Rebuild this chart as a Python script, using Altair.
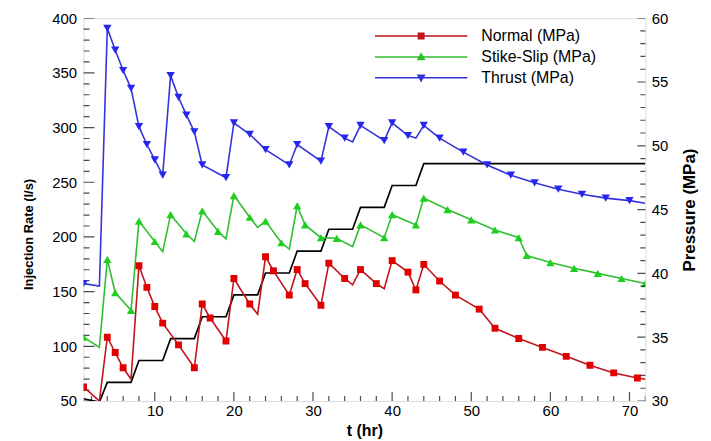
import altair as alt
import pandas as pd

# ---------------- data ----------------
T_RATE = [1, 3, 4, 7, 8, 11, 12, 15, 16, 19, 20, 23, 24, 27, 28, 31, 32, 35, 36, 39, 40, 43, 44, 72]
RATE = [52, 49, 67, 67, 87, 87, 107, 107, 127, 127, 147, 147, 167, 167, 187, 187, 207, 207,
        227, 227, 247, 247, 267, 267]

T_NORMAL = [1, 3, 4, 5, 6, 7, 8, 9, 10, 11, 13, 15, 16, 17, 19, 20, 22, 23, 24, 25, 27, 28, 29, 31,
            32, 34, 35, 36, 38, 39, 40, 42, 43, 44, 46, 48, 51, 53, 56, 59, 62, 65, 68, 71, 72]
P_NORMAL = [31.1, 30.0, 35.0, 33.8, 32.6, 31.7, 40.6, 38.9, 37.4, 36.1, 34.4, 32.6, 37.6, 36.5, 34.7,
            39.6, 37.6, 36.8, 41.3, 40.2, 38.3, 40.3, 39.2, 37.5, 40.8, 39.6, 39.1, 40.3, 39.2, 38.8,
            41.0, 40.1, 38.7, 40.7, 39.4, 38.3, 37.2, 35.7, 34.9, 34.2, 33.5, 32.8, 32.2, 31.8, 31.7]
M_NORMAL = [1, 0, 1, 1, 1, 0, 1, 1, 1, 1, 1, 1, 1, 1, 1, 1, 1, 0, 1, 1, 1, 1, 1, 1, 1, 1, 0, 1, 1, 0,
            1, 1, 1, 1, 1, 1, 1, 1, 1, 1, 1, 1, 1, 1, 0]

T_STRIKE = [1, 3, 4, 5, 7, 8, 10, 11, 12, 14, 15, 16, 18, 19, 20, 22, 23, 24, 26, 27, 28, 29, 31, 33,
            35, 36, 39, 40, 43, 44, 47, 50, 53, 56, 57, 60, 63, 66, 69, 72]
P_STRIKE = [35.0, 34.2, 41.1, 38.5, 37.1, 44.1, 42.5, 41.7, 44.6, 43.1, 42.5, 44.9, 43.3, 42.7, 46.1,
            44.4, 43.6, 44.1, 42.4, 41.9, 45.3, 43.8, 42.8, 42.75, 42.1, 43.8, 42.8, 44.6, 43.8, 45.9,
            45.0, 44.2, 43.4, 42.8, 41.4, 40.85, 40.4, 40.0, 39.6, 39.2]
M_STRIKE = [1, 0, 1, 1, 1, 1, 1, 0, 1, 1, 0, 1, 1, 0, 1, 1, 0, 1, 1, 0, 1, 1, 1, 1, 0, 1, 1, 1, 1, 1,
            1, 1, 1, 1, 1, 1, 1, 1, 1, 1]

T_THRUST = [1, 3, 4, 5, 6, 7, 8, 9, 10, 11, 12, 13, 14, 15, 16, 19, 20, 22, 24, 27, 28, 31, 32, 34,
            35, 36, 39, 40, 42, 43, 44, 46, 49, 52, 55, 58, 61, 64, 67, 70, 72]
P_THRUST = [39.2, 39.0, 59.2, 57.5, 55.9, 54.5, 51.5, 50.1, 48.9, 47.7, 55.5, 53.8, 52.4, 51.1, 48.5,
            47.5, 51.8, 50.9, 49.7, 48.5, 50.1, 48.8, 51.5, 50.6, 50.3, 51.6, 50.4, 51.8, 50.8, 50.6,
            51.6, 50.6, 49.5, 48.5, 47.7, 47.1, 46.6, 46.2, 45.9, 45.7, 45.5]
M_THRUST = [1, 0, 1, 1, 1, 1, 1, 1, 1, 1, 1, 1, 1, 1, 1, 1, 1, 1, 1, 1, 1, 1, 1, 1, 0, 1, 1, 1, 1, 0,
            1, 1, 1, 1, 1, 1, 1, 1, 1, 1, 0]

SERIES = ["Normal (MPa)", "Stike-Slip (MPa)", "Thrust (MPa)"]

X_TICK_LABELS = [10, 20, 30, 40, 50, 60, 70]
RATE_TICK_LABELS = [50, 100, 150, 200, 250, 300, 350, 400]
P_TICK_LABELS = [30, 35, 40, 45, 50, 55, 60]
X_TICKS = list(range(2, 73, 2))
RATE_TICKS = list(range(50, 401, 10))
P_TICKS = list(range(30, 61, 1))

# ---------------- styles ----------------
FONT = "Liberation Sans"
LINE_COLORS = ["#c0141c", "#2fbf2f", "#3434dc"]
MARKER_COLORS = ["#e00000", "#1fcf1f", "#2626ee"]
MARKER_SHAPES = ["square", "triangle-up", "triangle-down"]
MARKER_SIZES = [48, 70, 70]
LEGEND_PATHS = [
    "M-1,-0.016H-0.075V0.016H-1Z M0.075,-0.016H1V0.016H0.075Z M-0.075,-0.075H0.075V0.075H-0.075Z",
    "M-1,-0.016H-0.05V0.016H-1Z M0.05,-0.016H1V0.016H0.05Z M0,-0.1L0.097,0.07L-0.097,0.07Z",
    "M-1,-0.016H-0.05V0.016H-1Z M0.05,-0.016H1V0.016H0.05Z M0,0.1L-0.097,-0.07L0.097,-0.07Z",
]
W, H = 565, 385

# ---------------- tables ----------------
rate_df = pd.DataFrame({"t": T_RATE, "rate": RATE})
frames = []
for name, ts, ps, ms in [(SERIES[0], T_NORMAL, P_NORMAL, M_NORMAL),
                         (SERIES[1], T_STRIKE, P_STRIKE, M_STRIKE),
                         (SERIES[2], T_THRUST, P_THRUST, M_THRUST)]:
    frames.append(pd.DataFrame({"t": ts, "p": ps, "marker": ms, "series": name}))
p_df = pd.concat(frames, ignore_index=True)

x_axis = alt.Axis(values=X_TICK_LABELS, ticks=False, domain=False, grid=False,
                  labelFont=FONT, labelFontSize=15, labelColor="black", labelPadding=3,
                  title="t (hr)", titleFont=FONT, titleFontSize=16, titleFontWeight="bold",
                  titleColor="black", titlePadding=4)
x_scale = alt.Scale(domain=[1, 72], nice=False, zero=False)
X = alt.X("t:Q", scale=x_scale, axis=x_axis)

rate_axis = alt.Axis(values=RATE_TICK_LABELS, ticks=False, domain=False, grid=False, orient="left",
                     labelFont=FONT, labelFontSize=15, labelColor="black", labelPadding=7,
                     title="Injection Rate (l/s)", titleFont=FONT, titleFontSize=13,
                     titleFontWeight="bold", titleColor="black", titlePadding=16, titleY=217)
rate_scale = alt.Scale(domain=[50, 400], nice=False, zero=False)
Y_RATE = alt.Y("rate:Q", scale=rate_scale, axis=rate_axis)

p_axis = alt.Axis(values=P_TICK_LABELS, ticks=False, domain=False, grid=False, orient="right",
                  labelFont=FONT, labelFontSize=15, labelColor="black", labelPadding=6,
                  title="Pressure (MPa)", titleFont=FONT, titleFontSize=17, titleFontWeight="bold",
                  titleColor="black", titlePadding=14, titleAngle=270, titleBaseline="top")
p_scale = alt.Scale(domain=[30, 60], nice=False, zero=False)
Y_P = alt.Y("p:Q", scale=p_scale, axis=p_axis)

# ---------------- rate group (left axis) ----------------
rate_line = alt.Chart(rate_df).mark_line(color="black", strokeWidth=1.7, clip=True).encode(x=X, y=Y_RATE)

left_ticks = alt.Chart(pd.DataFrame({"rate": RATE_TICKS})).transform_calculate(
    len="datum.rate % 50 === 0 ? 22 : 12"
).mark_tick(color="black", thickness=1.2, clip=True, orient="horizontal").encode(
    y=Y_RATE, x=alt.value(0), size=alt.Size("len:Q", scale=None))

bottom_ticks = alt.Chart(pd.DataFrame({"t": X_TICKS})).transform_calculate(
    len="datum.t % 10 === 0 ? 18 : 10"
).mark_tick(color="black", thickness=1.2, clip=True, orient="vertical").encode(
    x=X, y=alt.value(H), size=alt.Size("len:Q", scale=None))

rate_group = alt.layer(rate_line, left_ticks, bottom_ticks)

# ---------------- pressure group (right axis) ----------------
p_lines = []
p_points = []
for name, lcol, col, shp, sz in zip(SERIES, LINE_COLORS, MARKER_COLORS, MARKER_SHAPES, MARKER_SIZES):
    p_lines.append(
        alt.Chart(p_df).transform_filter(f"datum.series === '{name}'")
        .mark_line(color=lcol, strokeWidth=1.6, clip=True).encode(x=X, y=Y_P)
    )
    p_points.append(
        alt.Chart(p_df).transform_filter(
            f"datum.series === '{name}' && datum.marker === 1"
        ).mark_point(shape=shp, color=col, filled=True, size=sz, opacity=1, clip=True).encode(x=X, y=Y_P)
    )

right_ticks = alt.Chart(pd.DataFrame({"p": P_TICKS})).transform_calculate(
    len="datum.p % 5 === 0 ? 16 : 10"
).mark_tick(color="black", thickness=1.2, clip=True, orient="horizontal").encode(
    y=Y_P, x=alt.value(W), size=alt.Size("len:Q", scale=None))

legend_spec = alt.Legend(title=None, orient="none", legendX=293, legendY=9, padding=0,
                         labelFont=FONT, labelFontSize=16, labelColor="black", labelOffset=14,
                         symbolSize=8649, symbolStrokeWidth=0, rowPadding=3, clipHeight=18)
legend_layer = alt.Chart(p_df).transform_filter("datum.t < -100").mark_point(
    filled=True, opacity=1).encode(
    x=X, y=Y_P,
    color=alt.Color("series:N", scale=alt.Scale(domain=SERIES, range=LINE_COLORS), legend=legend_spec),
    shape=alt.Shape("series:N", scale=alt.Scale(domain=SERIES, range=LEGEND_PATHS), legend=legend_spec))

p_group = alt.layer(*p_lines, *p_points, right_ticks, legend_layer)

chart = alt.layer(rate_group, p_group).resolve_scale(y="independent").properties(
    width=W, height=H,
    padding={"left": 76, "top": 9, "right": 58, "bottom": 39},
    autosize=alt.AutoSizeParams(type="none"),
    background="white",
).configure_view(stroke="black", strokeWidth=1.6).configure(font=FONT)

chart.save("out.html", embed_options={"renderer": "svg", "actions": False})
